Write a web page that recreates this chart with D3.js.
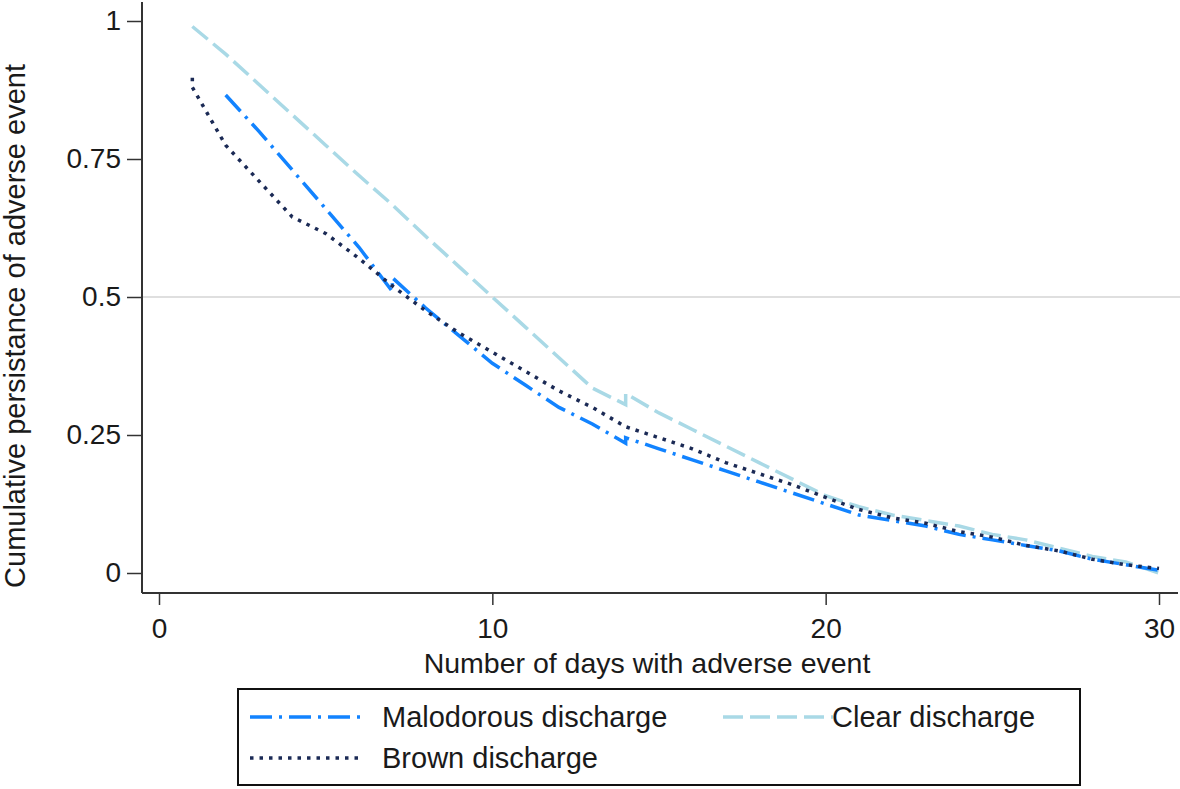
<!DOCTYPE html>
<html>
<head>
<meta charset="utf-8">
<script src="https://cdn.jsdelivr.net/npm/d3@7"></script>
<style>
  body { margin: 0; background: #fff; }
  text { font-family: Arial, "Liberation Sans", Helvetica, sans-serif; fill: #1a1a1a; }
</style>
</head>
<body>
<svg id="chart"></svg>
<script>
// data (days 1..30, a day repeated where the curve has a small step)
var malodorousDays = [2,3,4,5,6,7,7,8,9,10,11,12,13,14,14,15,16,17,18,19,20,21,22,23,24,25,26,27,28,29,30];
var malodorous = [0.866,0.80,0.73,0.66,0.59,0.51,0.535,0.48,0.43,0.38,0.34,0.30,0.27,0.235,0.245,0.225,0.205,0.185,0.165,0.145,0.125,0.105,0.095,0.085,0.07,0.06,0.05,0.04,0.025,0.015,0.005];

var clearDays = [1,2,3,4,5,6,7,8,9,10,11,12,13,14,14,15,16,17,18,19,20,21,22,23,24,25,26,27,28,29,30];
var clear = [0.99,0.94,0.885,0.83,0.775,0.72,0.667,0.61,0.555,0.50,0.445,0.39,0.335,0.305,0.325,0.29,0.26,0.23,0.20,0.17,0.14,0.12,0.105,0.095,0.085,0.07,0.06,0.045,0.03,0.02,0.0];

var brownDays = [1,1,2,3,4,5,6,7,8,9,10,11,12,13,14,15,16,17,18,19,20,21,22,23,24,25,26,27,28,29,30];
var brown = [0.897,0.88,0.775,0.71,0.645,0.615,0.57,0.52,0.475,0.435,0.40,0.365,0.33,0.30,0.265,0.245,0.225,0.20,0.18,0.16,0.137,0.115,0.10,0.09,0.075,0.065,0.05,0.04,0.025,0.015,0.008];

var xTicks = [0, 10, 20, 30];
var yTicks = [0, 0.25, 0.5, 0.75, 1];
var yTickLabels = ["0", "0.25", "0.5", "0.75", "1"];

var width = 1180, height = 789;

var svg = d3.select("#chart")
    .attr("width", width)
    .attr("height", height);

var x = d3.scaleLinear().domain([0, 30]).range([159, 1159]);
var y = d3.scaleLinear().domain([0, 1]).range([573, 21]);

// reference line at 0.5
svg.append("line")
    .attr("x1", 143).attr("x2", 1180)
    .attr("y1", y(0.5)).attr("y2", y(0.5))
    .attr("stroke", "#d4d4d4").attr("stroke-width", 1.5);

// y axis
var yAxis = svg.append("g")
    .attr("transform", "translate(142,0)")
    .call(d3.axisLeft(y).tickValues(yTicks)
        .tickFormat(function(d, i) { return yTickLabels[i]; })
        .tickSizeInner(15).tickSizeOuter(0).tickPadding(6));
yAxis.select(".domain").attr("d", "M0,2V593").attr("stroke", "#333").attr("stroke-width", 2);
yAxis.selectAll(".tick line").attr("stroke", "#333").attr("stroke-width", 1.5);
yAxis.selectAll(".tick text").style("font-size", "28px").attr("fill", "#1a1a1a");

// x axis
var xAxis = svg.append("g")
    .attr("transform", "translate(0,593)")
    .call(d3.axisBottom(x).tickValues(xTicks).tickFormat(d3.format("d"))
        .tickSizeInner(12).tickSizeOuter(0).tickPadding(13));
xAxis.select(".domain").attr("d", "M142,0H1178").attr("stroke", "#333").attr("stroke-width", 2);
xAxis.selectAll(".tick line").attr("stroke", "#333").attr("stroke-width", 1.5);
xAxis.selectAll(".tick text").style("font-size", "28px").attr("fill", "#1a1a1a");

// axis titles
svg.append("text")
    .attr("x", 647).attr("y", 673)
    .attr("text-anchor", "middle")
    .style("font-size", "28.5px")
    .text("Number of days with adverse event");

svg.append("text")
    .attr("transform", "translate(25,326) rotate(-90)")
    .attr("text-anchor", "middle")
    .style("font-size", "29px")
    .text("Cumulative persistance of adverse event");

// series
var series = [
  { name: "Malodorous discharge", days: malodorousDays, vals: malodorous, color: "#1283ff", dash: "22,7,3,7" },
  { name: "Clear discharge", days: clearDays, vals: clear, color: "#a9d9e6", dash: "20,7" },
  { name: "Brown discharge", days: brownDays, vals: brown, color: "#1b2a55", dash: "3.5,6" }
];

var line = d3.line()
    .x(function(d) { return x(d[0]); })
    .y(function(d) { return y(d[1]); });

// draw clear first so the darker lines sit on top
[series[1], series[0], series[2]].forEach(function(s) {
  svg.append("path")
      .datum(d3.zip(s.days, s.vals))
      .attr("d", line)
      .attr("fill", "none")
      .attr("stroke", s.color)
      .attr("stroke-width", 3.5)
      .attr("stroke-dasharray", s.dash);
});

// legend
var legend = svg.append("g");
legend.append("rect")
    .attr("x", 238).attr("y", 689)
    .attr("width", 842).attr("height", 96)
    .attr("fill", "#fff").attr("stroke", "#111").attr("stroke-width", 2);

var legendPos = [
  { lx: 250, tx: 382, y: 717 },
  { lx: 723, tx: 832, y: 717 },
  { lx: 250, tx: 382, y: 758 }
];
series.forEach(function(s, i) {
  var p = legendPos[i];
  legend.append("line")
      .attr("x1", p.lx).attr("x2", p.lx + 110)
      .attr("y1", p.y).attr("y2", p.y)
      .attr("stroke", s.color).attr("stroke-width", 3.5)
      .attr("stroke-dasharray", s.dash);
  legend.append("text")
      .attr("x", p.tx).attr("y", p.y + 10)
      .style("font-size", "29px")
      .text(s.name);
});
</script>
</body>
</html>
